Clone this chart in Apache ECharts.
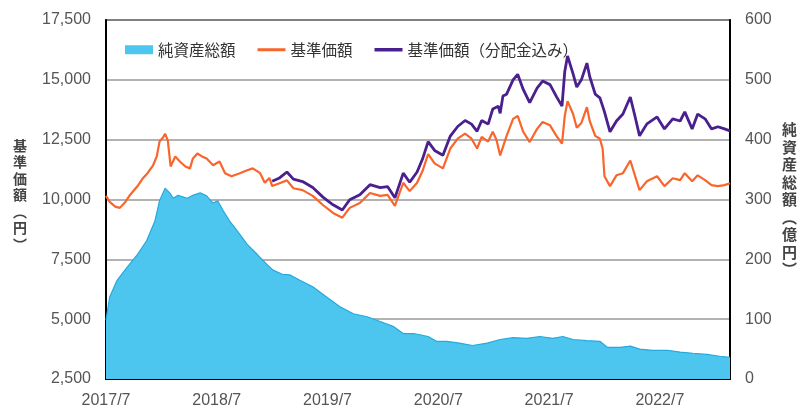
<!DOCTYPE html>
<html>
<head>
<meta charset="utf-8">
<script src="https://cdn.jsdelivr.net/npm/echarts@6/dist/echarts.min.js"></script>
<style>
html,body{margin:0;padding:0;background:#fff;}
#c{width:798px;height:409px;}
</style>
</head>
<body>
<div id="c"></div>
<script>
// x values: months elapsed since 2017/7
const xTickLabels = ['2017/7', '2018/7', '2019/7', '2020/7', '2021/7', '2022/7'];

// 純資産総額 (億円)
const assetT = [0, 0.4, 1.2, 2.3, 3.4, 4.4, 5.3, 5.8, 6.4, 6.9, 7.3, 7.8, 8.8, 9.4, 10.2, 10.9, 11.6, 12.1, 12.7, 13.4, 14.2, 15.3, 16.4, 17.4, 18.1, 19.1, 19.9, 21.0, 22.4, 23.9, 25.3, 26.8, 28.3, 29.7, 31.1, 32.2, 33.3, 34.0, 34.9, 35.8, 36.9, 38.3, 39.7, 41.3, 42.7, 44.1, 45.6, 47.0, 48.4, 49.5, 50.6, 52.1, 53.5, 54.3, 55.7, 56.8, 57.8, 59.2, 60.8, 62.2, 63.6, 65.1, 66.5, 67.6];
const assetV = [99, 137, 165, 187, 208, 231, 264, 298, 319, 311, 302, 307, 302, 307, 311, 306, 294, 298, 281, 264, 248, 225, 208, 192, 182, 175, 174, 165, 154, 137, 121, 109, 104, 96, 88, 76, 76, 74, 71, 63, 63, 60, 56, 60, 66, 69, 68, 71, 68, 71, 66, 64, 63, 53, 53, 55, 50, 48, 48, 45, 43, 41, 38, 36];

// 基準価額 (円)
const navT = [0, 0.4, 1.0, 1.5, 2.1, 2.6, 3.4, 4.0, 4.5, 5.1, 5.5, 5.8, 6.2, 6.4, 6.7, 7.0, 7.5, 8.0, 8.6, 9.1, 9.4, 9.9, 10.4, 10.9, 11.6, 12.3, 12.9, 13.6, 14.5, 15.3, 15.9, 16.7, 17.2, 17.7, 18.0, 18.8, 19.6, 20.3, 21.3, 22.4, 23.5, 24.6, 25.6, 26.4, 27.5, 28.6, 29.7, 30.5, 31.3, 32.2, 32.9, 33.7, 34.3, 34.9, 35.6, 36.5, 37.3, 38.1, 38.9, 39.6, 40.2, 40.7, 41.4, 41.9, 42.3, 42.7, 43.4, 44.1, 44.6, 45.2, 45.9, 46.7, 47.3, 48.1, 48.8, 49.4, 49.7, 50.0, 50.6, 51.0, 51.5, 52.1, 52.4, 53.0, 53.5, 53.8, 54.0, 54.6, 55.3, 56.0, 56.8, 57.3, 57.8, 58.6, 59.7, 60.5, 61.4, 62.2, 62.7, 63.5, 64.1, 64.9, 65.6, 66.3, 67.0, 67.6];
const navV = [10150, 9900, 9700, 9650, 9900, 10190, 10550, 10890, 11100, 11430, 11800, 12420, 12600, 12750, 12460, 11380, 11800, 11590, 11380, 11300, 11700, 11920, 11800, 11710, 11430, 11590, 11100, 10970, 11100, 11220, 11300, 11100, 10700, 10900, 10560, 10680, 10800, 10470, 10390, 10150, 9770, 9440, 9240, 9650, 9850, 10270, 10150, 10190, 9730, 10700, 10350, 10700, 11200, 11900, 11510, 11300, 12130, 12540, 12750, 12540, 12130, 12620, 12420, 12830, 12500, 11840, 12660, 13370, 13490, 12830, 12400, 12950, 13240, 13100, 12660, 12330, 13490, 14110, 13570, 13000, 13200, 13860, 13280, 12660, 12540, 12130, 10970, 10560, 11010, 11100, 11630, 11010, 10390, 10760, 10970, 10560, 10890, 10810, 11100, 10760, 11010, 10810, 10600, 10560, 10600, 10680];

// 基準価額（分配金込み） (円)
const divT = [18.0, 18.8, 19.6, 20.3, 21.3, 22.4, 23.5, 24.6, 25.6, 26.4, 27.5, 28.6, 29.7, 30.5, 31.3, 32.2, 32.9, 33.7, 34.3, 34.9, 35.6, 36.5, 37.3, 38.1, 38.9, 39.6, 40.2, 40.7, 41.4, 41.9, 42.5, 42.7, 43.0, 43.4, 44.1, 44.6, 45.2, 45.9, 46.7, 47.3, 48.1, 48.8, 49.4, 49.7, 50.0, 50.6, 51.0, 51.5, 52.1, 52.4, 53.0, 53.5, 53.8, 54.0, 54.6, 55.3, 56.0, 56.8, 57.3, 57.8, 58.6, 59.7, 60.5, 61.4, 62.2, 62.7, 63.5, 64.1, 64.9, 65.6, 66.3, 67.0, 67.6];
const divV = [10760, 10900, 11150, 10850, 10750, 10500, 10100, 9780, 9560, 9990, 10200, 10620, 10500, 10540, 10070, 11100, 10720, 11150, 11700, 12420, 12050, 11850, 12650, 13050, 13300, 13150, 12850, 13300, 13150, 13780, 13900, 13600, 14320, 14400, 15000, 15230, 14600, 14050, 14650, 14950, 14800, 14300, 13900, 15350, 16000, 15250, 14700, 15000, 15700, 15140, 14400, 14250, 13900, 13660, 12830, 13280, 13570, 14280, 13490, 12660, 13160, 13450, 12950, 13370, 13280, 13660, 12950, 13570, 13370, 12950, 13040, 12950, 12870];

const zip = (t, v) => t.map((x, i) => [x, v[i]]);

const numFont = 'Liberation Sans';
const jpFont = 'Noto Sans CJK JP';
const chart = echarts.init(document.getElementById('c'), null, {renderer: 'canvas'});

chart.setOption({
  animation: false,
  backgroundColor: '#fff',
  grid: {left: 106, right: 68, top: 20, bottom: 26, show: true, borderColor: '#000', borderWidth: 1.5, backgroundColor: 'transparent'},
  legend: {
    left: 120, top: 37, itemWidth: 28, itemHeight: 9, itemGap: 22,
    textStyle: {fontSize: 15.5, color: '#333', fontFamily: jpFont},
    data: [
      {name: '純資産総額', icon: 'rect'},
      {name: '基準価額', icon: 'path://M0,0H28V3H0Z'},
      {name: '基準価額（分配金込み）', icon: 'path://M0,0H28V3.5H0Z'}
    ]
  },
  xAxis: {
    type: 'value', min: 0, max: 67.6, interval: 6,
    axisLine: {lineStyle: {color: '#000', width: 2}},
    axisTick: {inside: true, length: 4, lineStyle: {color: '#000', width: 2}},
    splitLine: {show: false},
    axisLabel: {
      fontSize: 16, color: '#555', fontFamily: numFont, margin: 14,
      formatter: v => (v % 12 === 0 && xTickLabels[v / 12]) ? xTickLabels[v / 12] : ''
    }
  },
  yAxis: [
    {
      type: 'value', min: 2500, max: 17500, interval: 2500, position: 'left',
      axisLine: {show: true, lineStyle: {color: '#000', width: 2}},
      axisTick: {show: false},
      splitLine: {lineStyle: {color: '#999', width: 1.5}},
      axisLabel: {fontSize: 16, color: '#555', fontFamily: numFont, margin: 15,
        formatter: v => v.toLocaleString('en-US')}
    },
    {
      type: 'value', min: 0, max: 600, interval: 100, position: 'right',
      axisLine: {show: true, lineStyle: {color: '#000', width: 2}},
      axisTick: {show: false},
      splitLine: {show: false},
      axisLabel: {fontSize: 16, color: '#555', fontFamily: numFont, margin: 15}
    }
  ],
  series: [
    {
      name: '純資産総額', type: 'line', yAxisIndex: 1, data: zip(assetT, assetV),
      symbol: 'none', showSymbol: false,
      itemStyle: {color: '#4cc6ef'},
      lineStyle: {color: '#26a9dc', width: 1.2},
      areaStyle: {color: '#4cc6ef', opacity: 1},
      z: 1
    },
    {
      name: '基準価額', type: 'line', yAxisIndex: 0, data: zip(navT, navV),
      symbol: 'none', showSymbol: false,
      itemStyle: {color: '#f9652b'},
      lineStyle: {color: '#f9652b', width: 2.2},
      z: 3
    },
    {
      name: '基準価額（分配金込み）', type: 'line', yAxisIndex: 0, data: zip(divT, divV),
      symbol: 'none', showSymbol: false,
      itemStyle: {color: '#4a1f8e'},
      lineStyle: {color: '#4a1f8e', width: 2.8},
      z: 4
    }
  ],
  graphic: [
    {type: 'text', left: 13, top: 137, style: {
      text: ['基','準','価','額','︵','円','︶'].join('\n'),
      fontSize: 14, lineHeight: 16.5, fontWeight: 'bold', fill: '#444', fontFamily: jpFont, align: 'center'}},
    {type: 'text', left: 782, top: 121, style: {
      text: ['純','資','産','総','額','︵','億','円','︶'].join('\n'),
      fontSize: 15, lineHeight: 17.5, fontWeight: 'bold', fill: '#444', fontFamily: jpFont, align: 'center'}}
  ]
});
</script>
</body>
</html>
